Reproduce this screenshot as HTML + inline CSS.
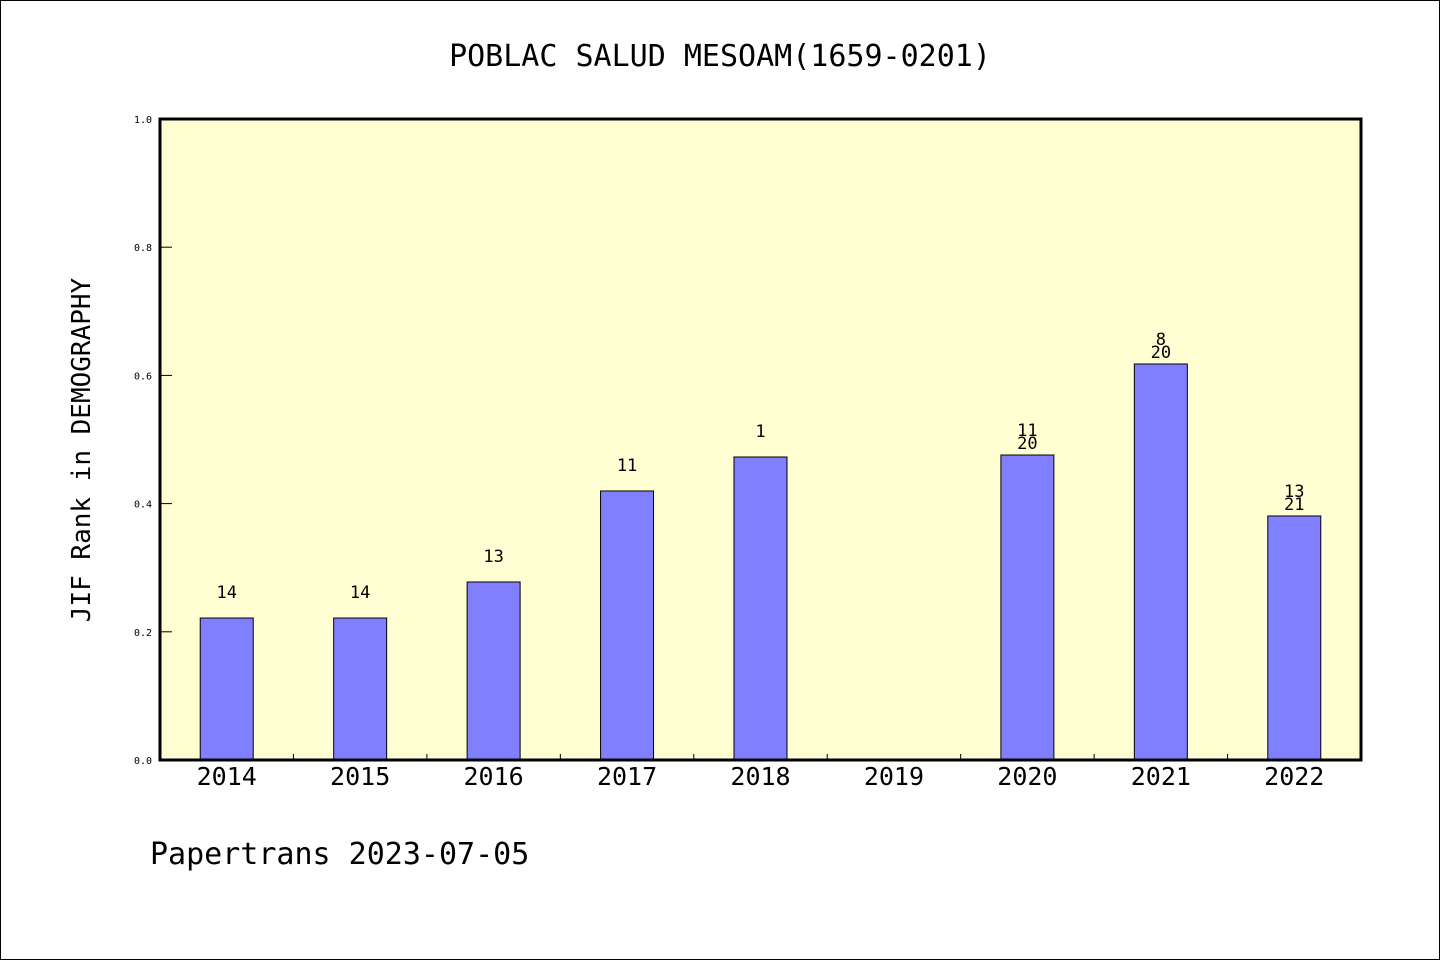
<!DOCTYPE html>
<html><head><meta charset="utf-8"><style>
html,body{margin:0;padding:0;background:#fff}
svg{display:block}
text{font-family:"DejaVu Sans Mono","Liberation Mono",monospace}
</style></head><body>
<svg id="chart" width="1440" height="960" xmlns="http://www.w3.org/2000/svg">
<rect x="0.5" y="0.5" width="1439" height="959" fill="#fff" stroke="#000"/>
<text x="720" y="66" text-anchor="middle" font-size="30">POBLAC SALUD MESOAM(1659-0201)</text>
<rect x="160" y="119" width="1201" height="641" fill="#ffffd3"/>
<g id="bars"></g>
<g id="yticks"></g>
<g id="xticks"></g>
<rect x="160" y="119" width="1201" height="641" fill="none" stroke="#000" stroke-width="3"/>
<text transform="translate(90,450) rotate(-90)" text-anchor="middle" font-size="26">JIF Rank in DEMOGRAPHY</text>
<text x="150" y="864" font-size="30">Papertrans 2023-07-05</text>
</svg>
<script>
const categories=["2014","2015","2016","2017","2018","2019","2020","2021","2022"];
const values=[0.2215,0.2215,0.2777,0.4197,0.4727,null,0.4758,0.6178,0.3807];
const labelTop=["14","14","13","11","1","","11","8","13"];
const labelBottom=["","","","","","","20","20","21"];
const yTicks=[0,0.2,0.4,0.6,0.8,1.0];
const ns="http://www.w3.org/2000/svg";
const X0=160,W=1201,Y0=760,H=641;
const step=W/categories.length;
function xc(i){return X0+step*(i+0.5);}
function ys(v){return Y0-v*H;}
function mk(t,a,p){const e=document.createElementNS(ns,t);for(const k in a)e.setAttribute(k,a[k]);p.appendChild(e);return e;}
const gb=document.getElementById('bars'),gy=document.getElementById('yticks'),gx=document.getElementById('xticks');
categories.forEach((c,i)=>{
  const v=values[i];
  if(v!=null){
    const r=mk('rect',{x:xc(i)-26.5,y:ys(v),width:53,height:Y0-ys(v),fill:'#8080ff',stroke:'#000','stroke-width':1},gb);
    
    
    if(labelBottom[i]){
      const t1=mk('text',{x:xc(i),y:ys(v)-6,'text-anchor':'middle','font-size':17,'font-family':'Liberation Sans, sans-serif'},gb);
      t1.textContent=labelBottom[i];
      
      
      const t2=mk('text',{x:xc(i),y:ys(v)-19,'text-anchor':'middle','font-size':17,'font-family':'Liberation Sans, sans-serif'},gb);
      t2.textContent=labelTop[i];
      
      
    } else {
      const t=mk('text',{x:xc(i),y:ys(v)-20,'text-anchor':'middle','font-size':17,'font-family':'Liberation Sans, sans-serif'},gb);
      t.textContent=labelTop[i];
      
      
    }
  }
  const xl=mk('text',{x:xc(i),y:785,'text-anchor':'middle','font-size':25,'font-family':'Liberation Sans, sans-serif'},gx);
  xl.textContent=c;
  
  
  if(i>0){
    const tk=mk('line',{x1:X0+step*i,x2:X0+step*i,y1:Y0,y2:Y0-6,stroke:'#000'},gx);
    
    
  }
});
yTicks.forEach(v=>{
  const l=mk('line',{x1:X0,x2:X0+12,y1:ys(v),y2:ys(v),stroke:'#000'},gy);
  
  
  const t=mk('text',{x:X0-8,y:ys(v)+4,'text-anchor':'end','font-size':10,'font-family':'DejaVu Sans, sans-serif'},gy);
  t.textContent=v.toFixed(1);
  
  
});
</script>
</body></html>
